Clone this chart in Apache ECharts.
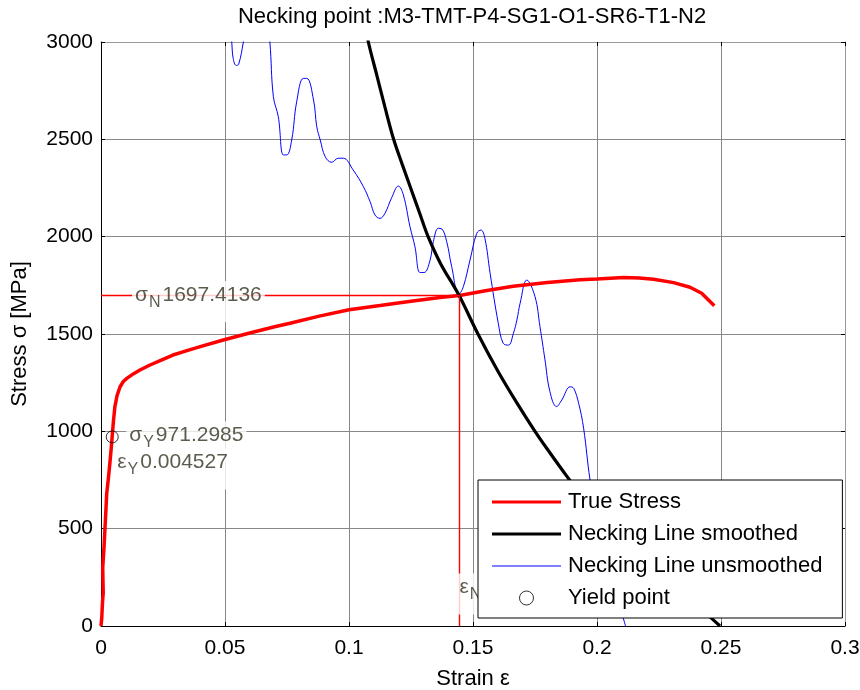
<!DOCTYPE html>
<html><head><meta charset="utf-8">
<script src="https://cdn.jsdelivr.net/npm/echarts@6/dist/echarts.min.js"></script>
<style>html,body{margin:0;padding:0;background:#fff}#c{width:860px;height:690px}</style>
</head><body><div id="c"></div>
<script>
const chartTitle = 'Necking point :M3-TMT-P4-SG1-O1-SR6-T1-N2';
const xTickLabels = ['0','0.05','0.1','0.15','0.2','0.25','0.3'];
const yTickLabels = ['0','500','1000','1500','2000','2500','3000'];
const legendNames = ['True Stress','Necking Line smoothed','Necking Line unsmoothed','Yield point'];

// True stress-strain curve
const trueStrain = [0,0.0003,0.0006,0.0009,0.0008,0.0007,0.0012,0.0016,0.0020,0.0023,0.0030,0.0036,0.0041,0.0045,0.0050,0.0056,0.0065,0.0077,0.0090,0.0104,0.0130,0.0157,0.020,0.025,0.029,0.035,0.040,0.0493,0.060,0.070,0.0762,0.088,0.100,0.1125,0.125,0.1367,0.14456,0.155,0.1662,0.180,0.1932,0.200,0.2107,0.217,0.2228,0.2309,0.2375,0.2422,0.2473];
const trueStress = [0,40,120,170,230,300,400,500,600,680,760,840,910,971,1050,1127,1185,1229,1256,1272,1295,1315,1342,1370,1392,1416,1435,1469,1505,1537,1555,1592,1625,1646,1668,1688,1697.4,1722,1745,1765,1779,1783,1790,1788,1781,1764,1740,1709,1645];

// Necking line (smoothed)
const smoothStrain = [0.105,0.1078,0.1112,0.1145,0.118,0.1215,0.125,0.1285,0.1319,0.137,0.1443,0.152,0.160,0.1675,0.175,0.181,0.1878,0.195,0.205,0.215,0.225,0.235,0.243,0.2496];
const smoothStress = [3180,3000,2830,2665,2500,2370,2245,2120,2000,1860,1700,1500,1310,1150,1000,890,770,650,510,385,265,160,75,0];

// Necking line (unsmoothed)
const rawStrain = [0.050,0.0527,0.0533,0.0545,0.0555,0.0574,0.060,0.064,0.067,0.0681,0.0695,0.0715,0.0735,0.0749,0.0769,0.0789,0.0816,0.083,0.0857,0.087,0.0884,0.0904,0.093,0.0957,0.0977,0.1017,0.1058,0.1085,0.1105,0.1125,0.1145,0.1172,0.1199,0.1219,0.1246,0.1266,0.1286,0.1303,0.1327,0.134,0.136,0.1374,0.1394,0.1414,0.1443,0.1461,0.1488,0.1515,0.1532,0.1548,0.1569,0.1602,0.1622,0.1643,0.1663,0.1677,0.169,0.1717,0.175,0.177,0.179,0.181,0.1837,0.1858,0.1892,0.1906,0.1926,0.1946,0.1972,0.200,0.205,0.2115];
const rawStress = [3350,3002,2916,2880,2885,3000,3200,3300,3100,3000,2719,2616,2420,2420,2497,2693,2813,2813,2702,2565,2497,2411,2382,2403,2403,2342,2257,2180,2111,2094,2120,2200,2260,2215,2051,1948,1816,1816,1880,1974,2043,2040,1974,1846,1704,1743,1880,2017,2034,1991,1812,1555,1452,1443,1504,1572,1658,1777,1692,1538,1370,1205,1127,1161,1229,1221,1144,1016,750,560,300,0];

const yieldStrain = 0.004527, yieldStress = 971.2985;
const neckStrain = 0.14456, neckStress = 1697.4136;

const FF = '"Liberation Sans", Arial, sans-serif';
const TXT = '#333322';
const zip = (a, b) => a.map((v, i) => [v, b[i]]);

const richStyles = {
  m: {fontSize: 21, lineHeight: 21, padding: [0,0,5,0], color: TXT, fontFamily: FF},
  s: {fontSize: 16, lineHeight: 16, padding: [10,2,0,1], color: TXT, fontFamily: FF}
};
function annot(pos, sym, sub, txt, off) {
  return {
    value: pos,
    label: {
      show: true, position: 'right', distance: 0, offset: off,
      formatter: '{m|' + sym + '}{s|' + sub + '}{m|' + txt + '}',
      backgroundColor: '#fff', padding: [6,3,14,3], rich: richStyles
    }
  };
}
const lineIcon = h => 'path://M0 0H70V' + h + 'H0Z';

const chart = echarts.init(document.getElementById('c'), null, {renderer: 'canvas'});
chart.setOption({
  animation: false,
  backgroundColor: '#fff',
  title: {
    text: chartTitle, left: 467, top: 1, textAlign: 'center',
    textStyle: {fontSize: 22, fontWeight: 'normal', color: '#000', fontFamily: FF}
  },
  grid: {left: 101, right: 15, top: 42, bottom: 64, containLabel: false, outerBoundsMode: 'none'},
  legend: {
    data: [
      {name: legendNames[0], icon: lineIcon(3.2), itemStyle: {color: '#ff0000', borderWidth: 0}},
      {name: legendNames[1], icon: lineIcon(3.2), itemStyle: {color: '#000', borderWidth: 0}},
      {name: legendNames[2], icon: lineIcon(1), itemStyle: {color: '#0000ff', borderWidth: 0}},
      {name: legendNames[3], icon: 'circle', itemStyle: {color: 'rgba(0,0,0,0)', borderColor: '#000', borderWidth: 1}}
    ],
    orient: 'vertical', left: 478, top: 480, z: 20,
    selectedMode: false, itemWidth: 69, itemHeight: 14, itemGap: 10,
    padding: [11, 20, 9, 14], backgroundColor: '#fff', borderColor: '#000', borderWidth: 1, borderRadius: 0,
    textStyle: {fontSize: 22, color: '#000', fontFamily: FF, lineHeight: 22, padding: [0,0,0,2]}
  },
  xAxis: [{
    type: 'value', min: 0, max: 0.3, interval: 0.05, position: 'bottom',
    axisLine: {show: true, onZero: false, lineStyle: {color: '#000', width: 1}},
    axisTick: {show: true, inside: true, length: 4, lineStyle: {color: '#000'}},
    axisLabel: {fontSize: 21, color: '#000', margin: 12, fontFamily: FF,
      formatter: v => xTickLabels[Math.round(v / 0.05)]},
    splitLine: {show: true, lineStyle: {color: '#888', width: 1}},
    name: 'Strain ε', nameLocation: 'middle', nameGap: 42,
    nameTextStyle: {fontSize: 22, color: '#000', fontFamily: FF}
  }, {
    type: 'value', min: 0, max: 0.3, interval: 0.05, position: 'top',
    axisLine: {show: true, onZero: false, lineStyle: {color: '#999', width: 1}},
    axisTick: {show: true, inside: true, length: 4, lineStyle: {color: '#000'}},
    axisLabel: {show: false}, splitLine: {show: false}
  }],
  yAxis: [{
    type: 'value', min: 0, max: 3000, interval: 500, position: 'left',
    axisLine: {show: true, onZero: false, lineStyle: {color: '#000', width: 1}},
    axisTick: {show: true, inside: true, length: 4, lineStyle: {color: '#000'}},
    axisLabel: {fontSize: 21, color: '#000', margin: 8, fontFamily: FF,
      formatter: v => yTickLabels[Math.round(v / 500)]},
    splitLine: {show: true, lineStyle: {color: '#888', width: 1}},
    name: 'Stress σ [MPa]', nameLocation: 'middle', nameGap: 70, nameRotate: 90,
    nameTextStyle: {fontSize: 22, color: '#000', fontFamily: FF}
  }, {
    type: 'value', min: 0, max: 3000, interval: 500, position: 'right',
    axisLine: {show: true, onZero: false, lineStyle: {color: '#999', width: 1}},
    axisTick: {show: true, inside: true, length: 4, lineStyle: {color: '#000'}},
    axisLabel: {show: false}, splitLine: {show: false}
  }],
  series: [
    {
      name: 'Necking Line unsmoothed', type: 'line', data: zip(rawStrain, rawStress),
      symbol: 'none', smooth: 0.4, clip: true, z: 2,
      lineStyle: {color: '#0000ff', width: 1}, itemStyle: {color: '#0000ff'}
    },
    {
      name: 'True Stress', type: 'line', data: zip(trueStrain, trueStress),
      symbol: 'none', clip: true, z: 3,
      lineStyle: {color: '#ff0000', width: 3.5}, itemStyle: {color: '#ff0000'}
    },
    {
      name: 'Necking Line smoothed', type: 'line', data: zip(smoothStrain, smoothStress),
      symbol: 'none', smooth: 0.35, clip: true, z: 4,
      lineStyle: {color: '#000', width: 3.2}, itemStyle: {color: '#000'}
    },
    {
      name: 'Yield point', type: 'scatter', data: [[yieldStrain, yieldStress]],
      symbol: 'circle', symbolSize: 12, z: 5,
      itemStyle: {color: 'rgba(0,0,0,0)', borderColor: '#000', borderWidth: 1}
    },
    {
      name: 'necking guides', type: 'line', silent: true, symbol: 'none', z: 5,
      data: [[0, neckStress], [neckStrain, neckStress], [neckStrain, 0]],
      lineStyle: {color: '#ff0000', width: 1.4, opacity: 1}, itemStyle: {color: '#ff0000'}
    },
    {
      name: 'annotations', type: 'scatter', silent: true, symbol: 'circle', symbolSize: 0, z: 6,
      itemStyle: {color: 'rgba(0,0,0,0)'},
      data: [
        annot([0, neckStress], 'σ', 'N', neckStress.toFixed(4), [31, 6]),
        annot([yieldStrain, yieldStress], 'σ', 'Y', yieldStress.toFixed(4), [14, 5]),
        annot([yieldStrain, yieldStress], 'ε', 'Y', String(yieldStrain), [2, 32]),
        annot([neckStrain, 0], 'ε', 'N', String(neckStrain), [-3, -32])
      ]
    }
  ]
});
</script></body></html>
